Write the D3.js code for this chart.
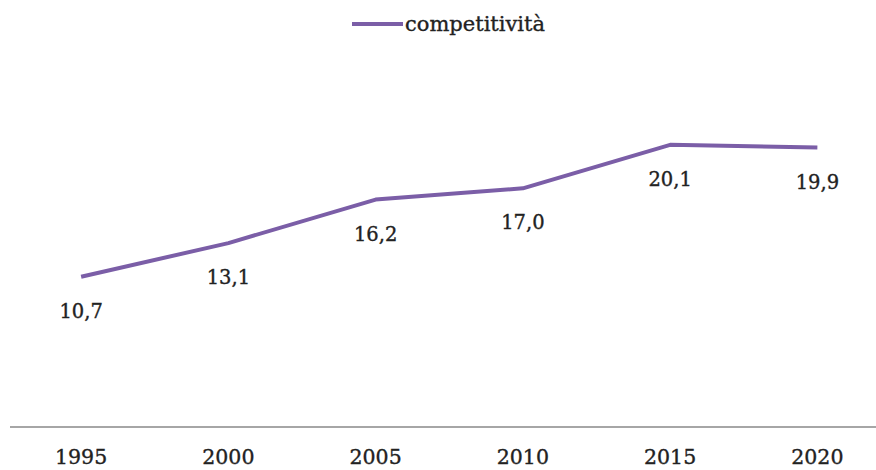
<!DOCTYPE html>
<html>
<head>
<meta charset="utf-8">
<script src="https://cdn.jsdelivr.net/npm/d3@7"></script>
<style>
  body { margin: 0; background: #fff; }
  svg text { font-family: "DejaVu Serif", serif; fill: #222; stroke: #222; stroke-width: 0.35px; }
</style>
</head>
<body>
<div id="canvas"><svg width="876" height="470"></svg></div>
<script>
const years = ["1995", "2000", "2005", "2010", "2015", "2020"];
const competitivita = [10.7, 13.1, 16.2, 17.0, 20.1, 19.9];
const seriesName = "competitività";

const svg = d3.select("#canvas").select("svg");
const color = "#7b5ea7";

const x = d3.scalePoint().domain(years).range([7.5, 891]).padding(0.5);
const y = d3.scaleLinear().domain([0, 25]).range([427, 76]);

// axis baseline
svg.append("line")
    .attr("x1", 10).attr("x2", 876)
    .attr("y1", y(0)).attr("y2", y(0))
    .attr("stroke", "#888").attr("stroke-width", 1.5);

svg.selectAll("text.year")
    .data(years)
    .enter().append("text")
    .attr("class", "year")
    .attr("x", d => x(d))
    .attr("y", 464)
    .attr("text-anchor", "middle")
    .style("font-size", "20.5px")
    .text(d => d);

const line = d3.line()
    .x((d, i) => x(years[i]))
    .y(d => y(d));

svg.append("path")
    .datum(competitivita)
    .attr("d", line)
    .attr("fill", "none")
    .attr("stroke", color)
    .attr("stroke-width", 4)
    .attr("stroke-linejoin", "round");

svg.selectAll("text.value")
    .data(competitivita)
    .enter().append("text")
    .attr("class", "value")
    .attr("x", (d, i) => x(years[i]))
    .attr("y", d => y(d) + 41)
    .attr("text-anchor", "middle")
    .style("font-size", "19.5px")
    .text(d => d.toFixed(1).replace(".", ","));

// legend
const legend = svg.append("g").attr("transform", "translate(352,24)");
legend.append("line")
    .attr("x1", 0).attr("x2", 51)
    .attr("stroke", color).attr("stroke-width", 4);
legend.append("text")
    .attr("x", 53).attr("y", 7)
    .style("font-size", "21px")
    .text(seriesName);
</script>
</body>
</html>
